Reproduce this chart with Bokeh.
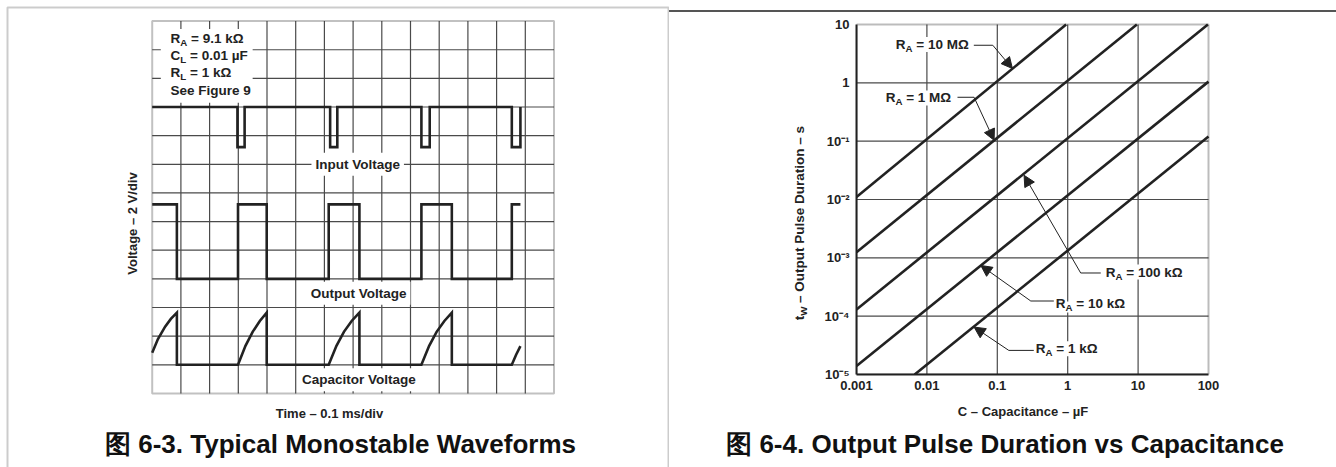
import math
from bokeh.plotting import figure
from bokeh.models import (Label, BoxAnnotation, FixedTicker, Range1d, Arrow, Div,
                          NormalHead, CustomJSTickFormatter)
from bokeh.layouts import row, column
from bokeh.embed import file_html
from bokeh.resources import INLINE

FONT = "Liberation Sans"
INK = "#222222"
GRID = "#4a4a4a"
FRAME = "#555555"

# ---------------- left panel data (oscilloscope divisions) ----------------
n_div_x = 14
n_div_y = 13
input_x = [0, 2.97, 2.97, 3.22, 3.22, 6.20, 6.20, 6.45, 6.45, 9.38, 9.38, 9.67, 9.67,
           12.53, 12.53, 12.83, 12.83]
input_y = [10, 10, 8.6, 8.6, 10, 10, 8.6, 8.6, 10, 10, 8.6, 8.6, 10, 10, 8.6, 8.6, 10]

output_x = [0, 0.86, 0.86, 2.99, 2.99, 3.99, 3.99, 6.15, 6.15, 7.22, 7.22, 9.38, 9.38,
            10.44, 10.44, 12.53, 12.53, 12.83]
output_y = [6.6, 6.6, 4.0, 4.0, 6.6, 6.6, 4.0, 4.0, 6.6, 6.6, 4.0, 4.0, 6.6, 6.6, 4.0, 4.0,
            6.6, 6.6]

cap_x = [0, 0.2, 0.45, 0.65, 0.86, 0.86, 2.99, 3.25, 3.5, 3.75, 3.99, 3.99, 6.15, 6.42,
         6.68, 6.95, 7.22, 7.22, 9.38, 9.65, 9.91, 10.18, 10.44, 10.44, 12.53, 12.68, 12.83]
cap_y = [1.42, 1.9, 2.33, 2.6, 2.82, 1.0, 1.0, 1.66, 2.15, 2.53, 2.82, 1.0, 1.0, 1.66,
         2.15, 2.53, 2.82, 1.0, 1.0, 1.66, 2.15, 2.53, 2.82, 1.0, 1.0, 1.35, 1.65]

wave_names = ["Input Voltage", "Output Voltage", "Capacitor Voltage"]
wave_label_x = [7.16, 7.19, 7.2]
wave_label_y = [8.0, 3.5, 0.48]

# ---------------- right panel data ----------------
ra_labels = ["10 MΩ", "1 MΩ", "100 kΩ", "10 kΩ", "1 kΩ"]
c_start = [0.001, 0.001, 0.001, 0.001, 0.0067]
c_end = [0.95, 9.6, 98.0, 100.0, 100.0]
tw_start = [0.011, 0.00125, 0.00013, 0.000014, 0.00001]
tw_end = [10.0, 10.0, 10.0, 1.05, 0.12]

cap_ticks = [0.001, 0.01, 0.1, 1, 10, 100]
tw_ticks = [1e-5, 1e-4, 1e-3, 1e-2, 1e-1, 1, 10]

ann_text_x = [0.00361, 0.0026, 3.47, 0.678, 0.352]
ann_text_y = [4.54, 0.551, 5.7e-4, 1.68e-4, 2.77e-5]
leader_x0 = [0.0464, 0.0272, 2.95, 0.635, 0.33]
leader_x1 = [0.0863, 0.0468, 1.53, 0.299, 0.1456]
leader_y = [4.41, 0.566, 5.5e-4, 1.82e-4, 2.59e-5]
tip_x = [0.164, 0.090, 0.240, 0.0583, 0.0468]
tip_y = [1.76, 0.1035, 0.026, 7.4e-4, 6.5e-5]

ADV = {"R": 0.722, "C": 0.722, "t": 0.333, "A": 0.722, "L": 0.611, "W": 0.944, " ": 0.278}


def lab(p, x, y, text, size=13, align="left", angle=0.0, bg=None, pad=0, color=INK,
        dx=0.0, dy=0.0):
    kw = dict(x=x, y=y, x_offset=dx, y_offset=dy, text=text, angle=angle,
              text_align=align, text_baseline="middle", text_font=FONT,
              text_font_style="bold", text_font_size=f"{size}px", text_color=color)
    if bg is not None:
        kw["background_fill_color"] = bg
        kw["padding"] = pad
    p.add_layout(Label(**kw))


def composite(p, x, y, base, sub, rest, size=13, angle=0.0, bg=None):
    ssize = round(size * 0.72, 1)
    w1 = ADV[base] * size
    w2 = ADV[sub] * ssize
    sp = ADV[" "] * size
    drop = size * 0.3
    if angle == 0.0:
        offs = [(0, 0), (w1, -drop), (w1 + w2 + sp, 0)]
    else:
        offs = [(0, 0), (drop, w1), (0, w1 + w2 + sp)]
    for (txt, fs), (ox, oy) in zip([(base, size), (sub, ssize), (rest, size)], offs):
        lab(p, x, y, txt, size=fs, angle=angle, bg=bg, dx=ox, dy=oy)


def bare(width, height, xr, yr, **kw):
    p = figure(width=width, height=height, x_range=xr, y_range=yr,
               toolbar_location=None, output_backend="svg",
               border_fill_color=None, background_fill_color=None, **kw)
    p.outline_line_color = None
    return p


# ================= left panel (frame covers the whole canvas) =================
UX, UY = 28.7, 28.64            # px per division
x0 = -151.7 / UX
y1 = n_div_y + 20.6 / UY
pl = bare(669, 467, Range1d(x0, x0 + 669 / UX), Range1d(y1 - 467 / UY, y1),
          x_axis_type=None, y_axis_type=None, min_border=0)

# panel frame (top, left, divider)
pl.add_layout(BoxAnnotation(left=x0 + 7 / UX, right=x0 + 668 / UX, top=y1 - 7 / UY,
                            bottom=y1 - 600 / UY, fill_color=None, line_color=FRAME,
                            line_width=2))

vx = list(range(1, n_div_x))
hy = list(range(1, n_div_y))
pl.segment(x0=vx, y0=[0] * len(vx), x1=vx, y1=[n_div_y] * len(vx), line_color=GRID,
           line_width=1.2)
pl.segment(x0=[0] * len(hy), y0=hy, x1=[n_div_x] * len(hy), y1=hy, line_color=GRID,
           line_width=1.2)

for xs, ys in [(input_x, input_y), (output_x, output_y), (cap_x, cap_y)]:
    pl.line(xs, ys, line_width=2.6, color=INK, line_join="miter")

pl.add_layout(BoxAnnotation(left=0.3, right=3.5, bottom=10.15, top=12.72,
                            fill_color="white", fill_alpha=1.0, line_color=None))
pl.add_layout(BoxAnnotation(left=0, right=n_div_x, bottom=0, top=n_div_y,
                            fill_color=None, line_color="#333333", line_width=2))

for name, x, y in zip(wave_names, wave_label_x, wave_label_y):
    lab(pl, x, y, name, size=13.5, align="center", bg="white", pad=4)

composite(pl, 0.64, 12.38, "R", "A", "= 9.1 kΩ", size=13.5)
composite(pl, 0.64, 11.80, "C", "L", "= 0.01 µF", size=13.5)
composite(pl, 0.64, 11.22, "R", "L", "= 1 kΩ", size=13.5)
lab(pl, 0.64, 10.58, "See Figure 9", size=13.5)

lab(pl, -0.687, 5.933, "Voltage – 2 V/div", align="center", angle=math.pi / 2)
lab(pl, 6.177, -0.701, "Time – 0.1 ms/div", align="center")
lab(pl, 6.561, -1.749, "图 6-3. Typical Monostable Waveforms", size=26, align="center",
    color="#111111")

# ================= right panel =================
# top frame line of the right panel
top_rule = Div(width=667, height=8, margin=0,
               text='<div style="margin:0;padding-top:6px;width:667px;">'
                    '<div style="height:2px;width:667px;background:#555555"></div></div>')

# (a) strip holding the rotated y-axis title
pa = bare(143, 392, Range1d(0, 143), Range1d(0, 392), x_axis_type=None,
          y_axis_type=None, min_border=0)
composite(pa, 130, 58, "t", "W", "– Output Pulse Duration – s", size=13.5,
          angle=math.pi / 2)

# (b) log-log chart; frame extends to top and right edge of its canvas
DX, DY = 70.4, 58.33            # px per decade
xr_end = 10 ** (math.log10(cap_ticks[0]) + 480 / DX)
yr_end = 10 ** (math.log10(tw_ticks[0]) + 366 / DY)
pr = bare(524, 392, Range1d(cap_ticks[0], xr_end), Range1d(tw_ticks[0], yr_end),
          x_axis_type="log", y_axis_type="log", min_border_left=44,
          min_border_right=0, min_border_top=0, min_border_bottom=26)
pr.grid.visible = False

pr.xaxis.ticker = FixedTicker(ticks=cap_ticks)
pr.yaxis.ticker = FixedTicker(ticks=tw_ticks)
pr.xaxis.bounds = (cap_ticks[0], cap_ticks[-1])
pr.yaxis.bounds = (tw_ticks[0], tw_ticks[-1])
pr.xaxis.formatter = CustomJSTickFormatter(
    code="return tick >= 1 ? tick.toFixed(0) : tick.toFixed(Math.round(-Math.log10(tick)));")
pr.yaxis.formatter = CustomJSTickFormatter(code="""
const e = Math.round(Math.log10(tick));
if (e >= 0) { return String(Math.round(tick)); }
const sup = ['\u2070','\u00b9','\u00b2','\u00b3','\u2074','\u2075','\u2076','\u2077','\u2078','\u2079'];
return '10\u207b' + sup[-e];
""")
for ax in (pr.xaxis, pr.yaxis):
    ax.axis_line_color = INK
    ax.axis_line_width = 2
    ax.major_tick_in = 0
    ax.major_tick_out = 0
    ax.minor_tick_in = 0
    ax.minor_tick_out = 0
    ax.major_label_text_font = FONT
    ax.major_label_text_font_style = "bold"
    ax.major_label_text_font_size = "13px"
    ax.major_label_text_color = INK
pr.yaxis.major_label_standoff = 7
pr.xaxis.major_label_standoff = 6

inner_c = cap_ticks[1:-1]
inner_t = tw_ticks[1:-1]
pr.segment(x0=inner_c, y0=[tw_ticks[0]] * len(inner_c), x1=inner_c,
           y1=[tw_ticks[-1]] * len(inner_c), line_color=GRID, line_width=1.2)
pr.segment(x0=[cap_ticks[0]] * len(inner_t), y0=inner_t, x1=[cap_ticks[-1]] * len(inner_t),
           y1=inner_t, line_color=GRID, line_width=1.2)

for i in range(len(ra_labels)):
    pr.line([c_start[i], c_end[i]], [tw_start[i], tw_end[i]], line_width=2.6, color=INK)

pr.add_layout(BoxAnnotation(left=cap_ticks[0], right=cap_ticks[-1], bottom=tw_ticks[0],
                            top=tw_ticks[-1], fill_color=None, line_color=INK,
                            line_width=2))

pr.segment(x0=leader_x0, y0=leader_y, x1=leader_x1, y1=leader_y, line_width=1, color=INK)
for i in range(len(ra_labels)):
    pr.add_layout(Arrow(x_start=leader_x1[i], y_start=leader_y[i], x_end=tip_x[i],
                        y_end=tip_y[i], line_width=1, line_color=INK,
                        end=NormalHead(size=11, fill_color=INK, line_color=INK,
                                       line_width=1)))
    composite(pr, ann_text_x[i], ann_text_y[i], "R", "A", "= " + ra_labels[i],
              size=13.5, bg="white")

# (c) strip below holding x-axis title and caption
pb = bare(667, 67, Range1d(0, 667), Range1d(0, 67), x_axis_type=None,
          y_axis_type=None, min_border=0)
lab(pb, 353.5, 56.3, "C – Capacitance – µF", align="center")
lab(pb, 335.5, 24, "图 6-4. Output Pulse Duration vs Capacitance", size=26,
    align="center", color="#111111")

layout = row(pl, column(top_rule, row(pa, pr), pb))

open("out.html", "w").write(file_html(layout, INLINE))
